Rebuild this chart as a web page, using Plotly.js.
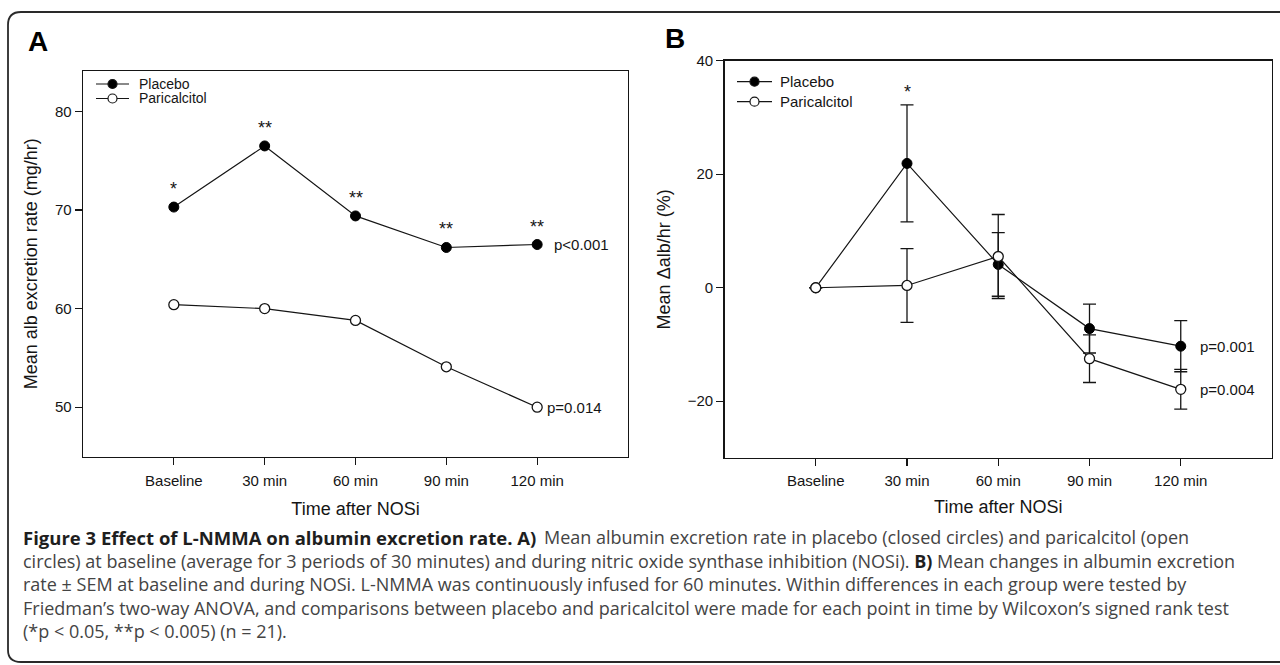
<!DOCTYPE html>
<html><head><meta charset="utf-8">
<script src="https://cdn.plot.ly/plotly-3.0.1.min.js"></script>
<style>html,body{margin:0;padding:0;background:#fff;} #chart{width:1280px;height:665px;}</style>
</head><body><div id="chart"></div>
<script>
// ---------- data ----------
const timepoints = ['Baseline', '30 min', '60 min', '90 min', '120 min'];
const seriesNames = ['Placebo', 'Paricalcitol'];

// Panel A: mean albumin excretion rate (mg/hr)
const albPlacebo = [70.3, 76.5, 69.4, 66.2, 66.5];
const albParicalcitol = [60.4, 60.0, 58.8, 54.1, 50.0];
const starsA = ['*', '**', '**', '**', '**'];
const pValuesA = ['p<0.001', 'p=0.014'];

// Panel B: mean change in albumin excretion (%), ± SEM
const deltaPlacebo = [0, 21.9, 4.1, -7.2, -10.3];
const semPlacebo = [null, 10.3, 5.6, 4.3, 4.5];
const deltaParicalcitol = [0, 0.4, 5.5, -12.5, -17.9];
const semParicalcitol = [null, 6.5, 7.4, 4.2, 3.5];
const starsB = ['', '*', '', '', ''];
const pValuesB = ['p=0.001', 'p=0.004'];

const captionBold = 'Figure 3 Effect of L-NMMA on albumin excretion rate. A)';
const captionLines = [
  'Mean albumin excretion rate in placebo (closed circles) and paricalcitol (open',
  'circles) at baseline (average for 3 periods of 30 minutes) and during nitric oxide synthase inhibition (NOSi). <b><span style="color:#1e1e1e">B)</span></b> Mean changes in albumin excretion',
  'rate ± SEM at baseline and during NOSi. L-NMMA was continuously infused for 60 minutes. Within differences in each group were tested by',
  'Friedman’s two-way ANOVA, and comparisons between placebo and paricalcitol were made for each point in time by Wilcoxon’s signed rank test',
  '(*p < 0.05, **p < 0.005) (n = 21).'
];

// ---------- layout helpers ----------
const W = 1280, H = 665;
const fx = p => p / W;
const fy = p => 1 - p / H;
const FONT = 'Arial, "Liberation Sans", sans-serif';
const CAPFONT = '"Open Sans", "Noto Sans", sans-serif';
const INK = '#151515';

const axisBase = {
  showline: true, mirror: true, linecolor: INK, linewidth: 1.4,
  ticks: 'outside', ticklen: 7, tickwidth: 1.2, tickcolor: INK,
  showgrid: false, zeroline: false, fixedrange: true,
  tickfont: {family: FONT, size: 15, color: INK}
};

const lineStyle = {color: INK, width: 1.2};
const traces = [
  {x: timepoints, y: albPlacebo, name: seriesNames[0], xaxis: 'x', yaxis: 'y', mode: 'lines+markers',
   line: lineStyle, marker: {size: 10, color: '#000', line: {color: '#000', width: 1}}},
  {x: timepoints, y: albParicalcitol, name: seriesNames[1], xaxis: 'x', yaxis: 'y', mode: 'lines+markers',
   line: lineStyle, marker: {size: 10, color: '#fff', line: {color: INK, width: 1.3}}},
  {x: timepoints, y: deltaPlacebo, name: seriesNames[0], xaxis: 'x2', yaxis: 'y2', mode: 'lines+markers',
   line: lineStyle, marker: {size: 10, color: '#000', line: {color: '#000', width: 1}},
   error_y: {type: 'data', array: semPlacebo, visible: true, color: INK, thickness: 1.3, width: 6.5}},
  {x: timepoints, y: deltaParicalcitol, name: seriesNames[1], xaxis: 'x2', yaxis: 'y2', mode: 'lines+markers',
   line: lineStyle, marker: {size: 10, color: '#fff', line: {color: INK, width: 1.3}},
   error_y: {type: 'data', array: semParicalcitol, visible: true, color: INK, thickness: 1.3, width: 6.5}}
];

const annotations = [];
const shapes = [];

// panel letters
annotations.push({xref: 'paper', yref: 'paper', x: fx(26), y: fy(42), xanchor: 'left', yanchor: 'middle', showarrow: false,
  text: '<b>A</b>', font: {family: FONT, size: 28, color: '#000'}});
annotations.push({xref: 'paper', yref: 'paper', x: fx(663), y: fy(38), xanchor: 'left', yanchor: 'middle', showarrow: false,
  text: '<b>B</b>', font: {family: FONT, size: 28, color: '#000'}});

// significance stars
starsA.forEach((s, i) => { if (s) annotations.push({xref: 'x', yref: 'y', x: timepoints[i], y: albPlacebo[i], yshift: 18,
  showarrow: false, text: s, font: {family: FONT, size: 18, color: INK}}); });
starsB.forEach((s, i) => { if (s) annotations.push({xref: 'x2', yref: 'y2', x: timepoints[i], y: deltaPlacebo[i] + semPlacebo[i], yshift: 13,
  showarrow: false, text: s, font: {family: FONT, size: 18, color: INK}}); });

// p values
const last = timepoints.length - 1;
annotations.push({xref: 'x', yref: 'y', x: timepoints[last], y: albPlacebo[last], xanchor: 'left', xshift: 15, showarrow: false,
  text: pValuesA[0], font: {family: FONT, size: 15, color: INK}});
annotations.push({xref: 'x', yref: 'y', x: timepoints[last], y: albParicalcitol[last], xanchor: 'left', xshift: 8, showarrow: false,
  text: pValuesA[1], font: {family: FONT, size: 15, color: INK}});
annotations.push({xref: 'x2', yref: 'y2', x: timepoints[last], y: deltaPlacebo[last], xanchor: 'left', xshift: 17, showarrow: false,
  text: pValuesB[0], font: {family: FONT, size: 15, color: INK}});
annotations.push({xref: 'x2', yref: 'y2', x: timepoints[last], y: deltaParicalcitol[last], xanchor: 'left', xshift: 17, showarrow: false,
  text: pValuesB[1], font: {family: FONT, size: 15, color: INK}});

// manual legends
function legend(x0, x1, yRows, textX, fs) {
  seriesNames.forEach((nm, i) => {
    const yy = yRows[i];
    shapes.push({type: 'line', xref: 'paper', yref: 'paper', x0: fx(x0), x1: fx(x1), y0: fy(yy), y1: fy(yy), line: {color: INK, width: 1.2}});
    shapes.push({type: 'circle', xref: 'paper', yref: 'paper', xsizemode: 'pixel', ysizemode: 'pixel',
      xanchor: fx((x0 + x1) / 2), yanchor: fy(yy), x0: -4.5, x1: 4.5, y0: -4.5, y1: 4.5,
      fillcolor: i === 0 ? '#000' : '#fff', line: {color: INK, width: 1.2}});
    annotations.push({xref: 'paper', yref: 'paper', x: fx(textX), y: fy(yy), xanchor: 'left', yanchor: 'middle', showarrow: false,
      text: nm, font: {family: FONT, size: fs, color: INK}});
  });
}
legend(96, 129, [84, 98.5], 137, 14);
legend(737, 772, [81.7, 101.7], 778, 15);

// caption
const capY = [537, 560.5, 584, 607.5, 631];
annotations.push({xref: 'paper', yref: 'paper', x: fx(21), y: fy(capY[0]), xanchor: 'left', yanchor: 'middle',
  showarrow: false, text: '<b>' + captionBold + '</b>', font: {family: CAPFONT, size: 18.5, color: '#1e1e1e'}});
captionLines.forEach((t, i) => annotations.push({xref: 'paper', yref: 'paper', x: fx(i === 0 ? 542 : 21), y: fy(capY[i]), xanchor: 'left', yanchor: 'middle',
  showarrow: false, align: 'left', text: t, font: {family: CAPFONT, size: 18, color: '#444'}}));

// outer rounded frame
shapes.push({type: 'path', xref: 'paper', yref: 'paper', line: {color: '#2a2a2a', width: 1.8},
  path: `M ${fx(1290)},${fy(12)} L ${fx(21)},${fy(12)} Q ${fx(8)},${fy(12)} ${fx(8)},${fy(25)} L ${fx(8)},${fy(650)} Q ${fx(8)},${fy(662)} ${fx(21)},${fy(662)} L ${fx(1290)},${fy(662)}`});

const layout = {
  width: W, height: H, margin: {l: 0, r: 0, t: 0, b: 0},
  paper_bgcolor: '#fff', plot_bgcolor: '#fff', showlegend: false,
  font: {family: FONT, color: INK},
  xaxis: Object.assign({}, axisBase, {domain: [fx(83), fx(628)], range: [-1, 5], anchor: 'y', ticklabelstandoff: 3,
    title: {text: 'Time after NOSi', font: {family: FONT, size: 18, color: INK}, standoff: 14}}),
  yaxis: Object.assign({}, axisBase, {domain: [fy(456.5), fy(71)], range: [45, 84.1], dtick: 10, anchor: 'x',
    title: {text: 'Mean alb excretion rate (mg/hr)', font: {family: FONT, size: 18, color: INK}, standoff: 12}}),
  xaxis2: Object.assign({}, axisBase, {domain: [fx(724.5), fx(1272)], range: [-1, 5], anchor: 'y2', ticklabelstandoff: 2,
    title: {text: 'Time after NOSi', font: {family: FONT, size: 18, color: INK}, standoff: 12}}),
  yaxis2: Object.assign({}, axisBase, {domain: [fy(458), fy(60.7)], range: [-30, 40], dtick: 20, anchor: 'x2',
    title: {text: 'Mean Δalb/hr (%)', font: {family: FONT, size: 18, color: INK}, standoff: 12}}),
  annotations: annotations,
  shapes: shapes
};

Plotly.newPlot('chart', traces, layout, {displayModeBar: false, staticPlot: true});
</script></body></html>
